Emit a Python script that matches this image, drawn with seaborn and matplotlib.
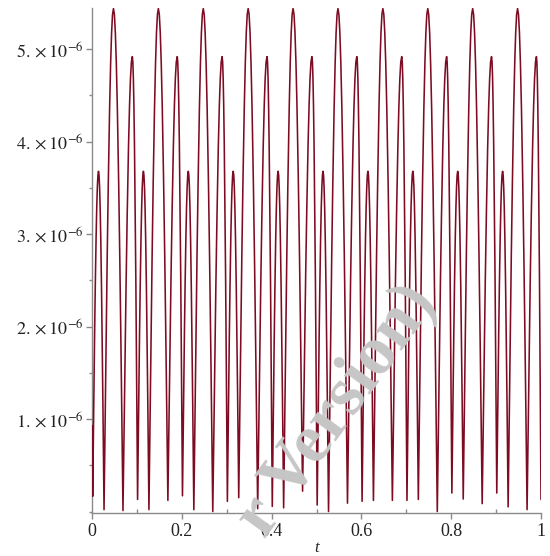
import matplotlib
matplotlib.use("Agg")
import numpy as np
import pandas as pd
import seaborn as sns
import matplotlib.pyplot as plt
from matplotlib.ticker import FixedLocator, MultipleLocator, FixedFormatter

# ---- data (values in units of 1e-6) ----
start_t, start_y = 0.0, 0.93
end_t, end_y = 1.0, 0.13

trough_t = [0.0015, 0.0268, 0.0690, 0.1015, 0.1268, 0.1690, 0.2015, 0.2268, 0.2690,
            0.3015, 0.3268, 0.3690, 0.4015, 0.4268, 0.4690, 0.5015, 0.5268, 0.5690,
            0.6015, 0.6268, 0.6690, 0.7015, 0.7268, 0.7690, 0.8015, 0.8268, 0.8690,
            0.9015, 0.9268, 0.9690]
trough_y = [0.165, 0.02, 0.01, 0.13, 0.02, 0.12, 0.17, 0.02, 0.00,
            0.11, 0.15, 0.03, 0.055, 0.04, 0.22, 0.07, 0.00, 0.09,
            0.11, 0.12, 0.12, 0.12, 0.13, 0.00, 0.20, 0.135, 0.085,
            0.20, 0.05, 0.02]

peak_t = [0.0145, 0.0478, 0.0898, 0.1145, 0.1478, 0.1898, 0.2145, 0.2478, 0.2898,
          0.3145, 0.3478, 0.3898, 0.4145, 0.4478, 0.4898, 0.5145, 0.5478, 0.5898,
          0.6145, 0.6478, 0.6898, 0.7145, 0.7478, 0.7898, 0.8145, 0.8478, 0.8898,
          0.9145, 0.9478, 0.9898]
peak_y = [3.68, 5.44, 4.92, 3.68, 5.44, 4.92, 3.68, 5.44, 4.92,
          3.68, 5.44, 4.92, 3.68, 5.44, 4.92, 3.68, 5.44, 4.92,
          3.68, 5.44, 4.92, 3.68, 5.44, 4.92, 3.68, 5.44, 4.92,
          3.68, 5.44, 4.92]

# shape of one flank of an arch: fraction of the flank's duration vs fraction of its rise
arch_dt = [0.0, 0.2, 0.333, 0.45, 0.59, 0.7, 0.8, 0.9, 1.0]
arch_lv = [0.0, 0.309, 0.5, 0.649, 0.8, 0.891, 0.951, 0.988, 1.0]

y_major = [1e-6, 2e-6, 3e-6, 4e-6, 5e-6]
y_labels = [r"$1.\times10^{-6}$", r"$2.\times10^{-6}$", r"$3.\times10^{-6}$",
            r"$4.\times10^{-6}$", r"$5.\times10^{-6}$"]
x_major = [0, 0.2, 0.4, 0.6, 0.8, 1.0]
x_labels = ["0", "0.2", "0.4", "0.6", "0.8", "1"]

# ---- assemble the polyline ----
ts, ys = [start_t], [start_y]
lows_t = trough_t + [end_t]
lows_y = trough_y + [end_y]
for i in range(len(peak_t)):
    t0, y0 = lows_t[i], lows_y[i]
    tp, yp = peak_t[i], peak_y[i]
    t1, y1 = lows_t[i + 1], lows_y[i + 1]
    for f, lv in zip(arch_dt, arch_lv):
        ts.append(t0 + f * (tp - t0))
        ys.append(y0 + lv * (yp - y0))
    for f, lv in zip(arch_dt[-2:0:-1], arch_lv[-2:0:-1]):
        ts.append(t1 - f * (t1 - tp))
        ys.append(y1 + lv * (yp - y1))
ts.append(end_t)
ys.append(end_y)

df = pd.DataFrame({"t": ts, "y": np.array(ys) * 1e-6})

# ---- figure ----
sns.set_theme(style="ticks")
plt.rcParams["font.family"] = ["Liberation Serif", "DejaVu Serif"]
plt.rcParams["mathtext.fontset"] = "stix"

W, H = 550, 556
fig = plt.figure(figsize=(W / 100, H / 100), dpi=100)
ax = fig.add_axes([92 / W, 1 - 513 / H, (541 - 92) / W, (513 - 8) / H])

# watermark behind the curve
fig.text(337 / W, 1 - 410 / H, "r Version)", rotation=54, rotation_mode="anchor",
         ha="center", va="center", fontsize=50, fontweight="bold",
         color="#c6c6c6", family=["Liberation Serif"], zorder=0)
ax.set_facecolor("none")

sns.lineplot(data=df, x="t", y="y", sort=False, estimator=None, ax=ax,
             color="#7d0c22", linewidth=1.15, zorder=3)

ax.set_xlim(0, 1)
ax.set_ylim(-0.016e-6, 5.446e-6)

for s in ("top", "right"):
    ax.spines[s].set_visible(False)
for s in ("left", "bottom"):
    ax.spines[s].set_color("#8a8a8a")
    ax.spines[s].set_linewidth(1.0)

ax.yaxis.set_major_locator(FixedLocator(y_major))
ax.yaxis.set_major_formatter(FixedFormatter(y_labels))
ax.yaxis.set_minor_locator(MultipleLocator(0.5e-6))
ax.xaxis.set_major_locator(FixedLocator(x_major))
ax.xaxis.set_major_formatter(FixedFormatter(x_labels))
ax.xaxis.set_minor_locator(MultipleLocator(0.1))

ax.tick_params(axis="y", which="major", direction="out", length=4, width=1,
               color="#8a8a8a", labelsize=13, labelcolor="#222222", pad=2)
ax.tick_params(axis="y", which="minor", direction="out", length=2, width=1,
               color="#8a8a8a")
ax.tick_params(axis="x", which="major", direction="out", length=4, width=1,
               color="#8a8a8a", labelsize=13, labelcolor="#222222", pad=3)
ax.tick_params(axis="x", which="minor", direction="in", length=3, width=1,
               color="#8a8a8a")

ax.set_ylabel("")
ax.set_xlabel("t", fontstyle="italic", fontsize=12, color="#222222", labelpad=0)

fig.savefig("out.png", dpi=100)
